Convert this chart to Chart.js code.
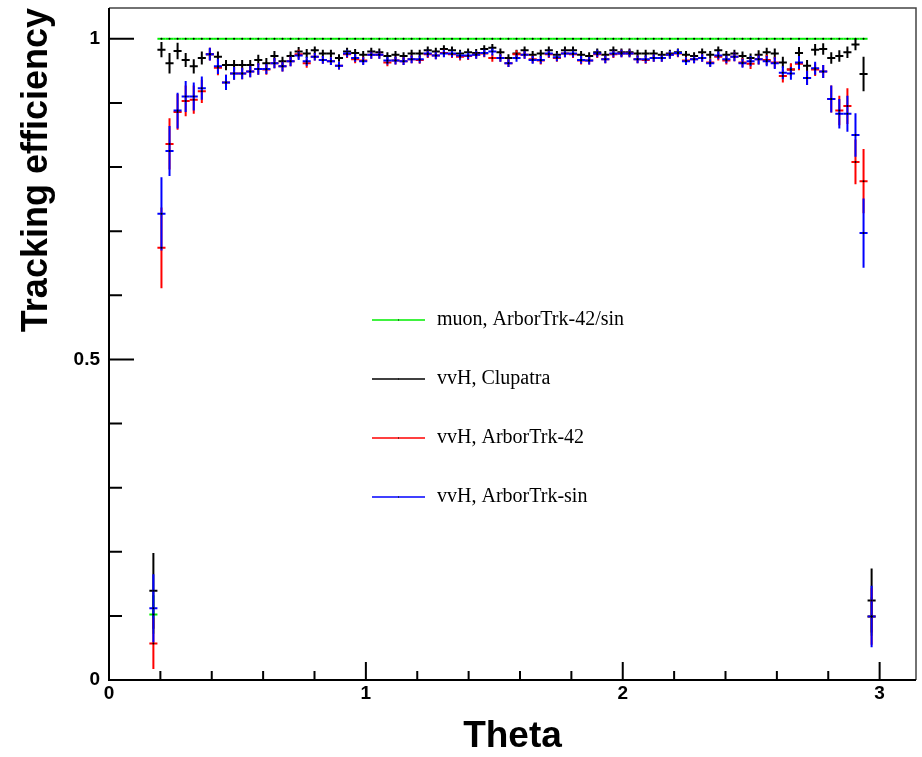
<!DOCTYPE html>
<html>
<head>
<meta charset="utf-8">
<title>Tracking efficiency vs Theta</title>
<script src="https://cdn.jsdelivr.net/npm/chart.js@4.4.1/dist/chart.umd.min.js"></script>
<style>
    body { margin: 0; background: #fff; }
    canvas { display: block; }
</style>
</head>
<body>
<canvas id="effChart" width="922" height="757"></canvas>
<script>
// theta bin centres (100 bins from 0 to pi, bins 5..94 filled)
const theta = [
    0.1728, 0.2042, 0.2356, 0.2670, 0.2985, 0.3299, 0.3613, 0.3927, 0.4241, 0.4555,
    0.4869, 0.5184, 0.5498, 0.5812, 0.6126, 0.6440, 0.6754, 0.7069, 0.7383, 0.7697,
    0.8011, 0.8325, 0.8639, 0.8954, 0.9268, 0.9582, 0.9896, 1.0210, 1.0524, 1.0838,
    1.1153, 1.1467, 1.1781, 1.2095, 1.2409, 1.2723, 1.3038, 1.3352, 1.3666, 1.3980,
    1.4294, 1.4608, 1.4923, 1.5237, 1.5551, 1.5865, 1.6179, 1.6493, 1.6808, 1.7122,
    1.7436, 1.7750, 1.8064, 1.8378, 1.8692, 1.9007, 1.9321, 1.9635, 1.9949, 2.0263,
    2.0577, 2.0892, 2.1206, 2.1520, 2.1834, 2.2148, 2.2462, 2.2777, 2.3091, 2.3405,
    2.3719, 2.4033, 2.4347, 2.4662, 2.4976, 2.5290, 2.5604, 2.5918, 2.6232, 2.6546,
    2.6861, 2.7175, 2.7489, 2.7803, 2.8117, 2.8431, 2.8746, 2.9060, 2.9374, 2.9688
];
const binWidth = Math.PI / 100;

const muonEff = [
    0.102, 1, 1, 1, 1, 1, 1, 1, 1, 1,
    1, 1, 1, 1, 1, 1, 1, 1, 1, 1,
    1, 1, 1, 1, 1, 1, 1, 1, 1, 1,
    1, 1, 1, 1, 1, 1, 1, 1, 1, 1,
    1, 1, 1, 1, 1, 1, 1, 1, 1, 1,
    1, 1, 1, 1, 1, 1, 1, 1, 1, 1,
    1, 1, 1, 1, 1, 1, 1, 1, 1, 1,
    1, 1, 1, 1, 1, 1, 1, 1, 1, 1,
    1, 1, 1, 1, 1, 1, 1, 1, 1, 0.099
];
const muonErr = [
    0.03, 0, 0, 0, 0, 0, 0, 0, 0, 0,
    0, 0, 0, 0, 0, 0, 0, 0, 0, 0,
    0, 0, 0, 0, 0, 0, 0, 0, 0, 0,
    0, 0, 0, 0, 0, 0, 0, 0, 0, 0,
    0, 0, 0, 0, 0, 0, 0, 0, 0, 0,
    0, 0, 0, 0, 0, 0, 0, 0, 0, 0,
    0, 0, 0, 0, 0, 0, 0, 0, 0, 0,
    0, 0, 0, 0, 0, 0, 0, 0, 0, 0,
    0, 0, 0, 0, 0, 0, 0, 0, 0, 0.03
];

const clupatraEff = [
    0.139, 0.983, 0.962, 0.981, 0.967, 0.957, 0.970, 0.976, 0.972, 0.959,
    0.959, 0.959, 0.959, 0.967, 0.962, 0.973, 0.965, 0.973, 0.980, 0.977,
    0.982, 0.977, 0.977, 0.970, 0.980, 0.978, 0.975, 0.980, 0.979, 0.973,
    0.975, 0.973, 0.977, 0.977, 0.982, 0.980, 0.984, 0.982, 0.977, 0.979,
    0.978, 0.984, 0.986, 0.979, 0.970, 0.977, 0.982, 0.975, 0.977, 0.982,
    0.975, 0.982, 0.982, 0.975, 0.973, 0.979, 0.975, 0.982, 0.979, 0.979,
    0.977, 0.977, 0.977, 0.975, 0.977, 0.979, 0.975, 0.973, 0.979, 0.975,
    0.982, 0.975, 0.977, 0.973, 0.970, 0.975, 0.979, 0.977, 0.963, 0.952,
    0.978, 0.958, 0.983, 0.984, 0.970, 0.973, 0.979, 0.991, 0.945, 0.124
];
const clupatraErr = [
    0.059, 0.012, 0.016, 0.013, 0.011, 0.011, 0.010, 0.009, 0.008, 0.008,
    0.008, 0.008, 0.008, 0.008, 0.008, 0.008, 0.007, 0.007, 0.007, 0.007,
    0.006, 0.006, 0.006, 0.006, 0.006, 0.006, 0.006, 0.006, 0.006, 0.006,
    0.006, 0.006, 0.006, 0.006, 0.006, 0.006, 0.006, 0.006, 0.006, 0.006,
    0.006, 0.006, 0.006, 0.006, 0.006, 0.006, 0.006, 0.006, 0.006, 0.006,
    0.006, 0.006, 0.006, 0.006, 0.006, 0.006, 0.006, 0.006, 0.006, 0.006,
    0.006, 0.006, 0.006, 0.006, 0.006, 0.006, 0.006, 0.006, 0.006, 0.006,
    0.006, 0.006, 0.006, 0.007, 0.007, 0.007, 0.007, 0.008, 0.009, 0.009,
    0.009, 0.009, 0.009, 0.009, 0.009, 0.009, 0.009, 0.009, 0.027, 0.050
];

const arbor42Eff = [
    0.057, 0.674, 0.836, 0.886, 0.903, 0.905, 0.918, 0.976, 0.955, 0.932,
    0.946, 0.946, 0.949, 0.953, 0.952, 0.962, 0.957, 0.965, 0.976, 0.962,
    0.972, 0.967, 0.965, 0.958, 0.976, 0.968, 0.966, 0.975, 0.975, 0.963,
    0.966, 0.965, 0.968, 0.967, 0.976, 0.974, 0.978, 0.976, 0.972, 0.973,
    0.975, 0.977, 0.970, 0.970, 0.962, 0.976, 0.975, 0.968, 0.966, 0.976,
    0.970, 0.977, 0.976, 0.966, 0.966, 0.976, 0.968, 0.976, 0.977, 0.977,
    0.968, 0.967, 0.970, 0.970, 0.975, 0.977, 0.966, 0.968, 0.970, 0.963,
    0.972, 0.966, 0.972, 0.963, 0.961, 0.968, 0.967, 0.963, 0.942, 0.952,
    0.961, 0.939, 0.952, 0.949, 0.906, 0.888, 0.895, 0.808, 0.778, 0.099
];
const arbor42Err = [
    0.040, 0.063, 0.040, 0.028, 0.024, 0.022, 0.018, 0.010, 0.012, 0.012,
    0.010, 0.009, 0.009, 0.009, 0.008, 0.008, 0.008, 0.008, 0.007, 0.007,
    0.006, 0.006, 0.006, 0.006, 0.006, 0.006, 0.006, 0.006, 0.006, 0.006,
    0.006, 0.006, 0.006, 0.006, 0.006, 0.006, 0.006, 0.006, 0.006, 0.006,
    0.006, 0.006, 0.006, 0.006, 0.006, 0.006, 0.006, 0.006, 0.006, 0.006,
    0.006, 0.006, 0.006, 0.006, 0.006, 0.006, 0.006, 0.006, 0.006, 0.006,
    0.006, 0.006, 0.006, 0.006, 0.006, 0.006, 0.006, 0.006, 0.006, 0.006,
    0.006, 0.006, 0.007, 0.007, 0.008, 0.008, 0.008, 0.009, 0.010, 0.010,
    0.010, 0.011, 0.010, 0.010, 0.021, 0.023, 0.028, 0.035, 0.050, 0.044
];

const arborSinEff = [
    0.112, 0.727, 0.825, 0.888, 0.910, 0.910, 0.923, 0.976, 0.957, 0.932,
    0.946, 0.946, 0.949, 0.953, 0.953, 0.962, 0.957, 0.965, 0.974, 0.965,
    0.972, 0.967, 0.965, 0.958, 0.977, 0.970, 0.965, 0.975, 0.975, 0.966,
    0.966, 0.965, 0.968, 0.968, 0.977, 0.974, 0.977, 0.977, 0.974, 0.974,
    0.975, 0.978, 0.980, 0.970, 0.962, 0.970, 0.975, 0.967, 0.967, 0.977,
    0.971, 0.977, 0.977, 0.967, 0.966, 0.977, 0.968, 0.977, 0.977, 0.977,
    0.968, 0.968, 0.970, 0.970, 0.975, 0.978, 0.965, 0.968, 0.970, 0.962,
    0.974, 0.968, 0.972, 0.962, 0.965, 0.968, 0.965, 0.962, 0.947, 0.946,
    0.963, 0.939, 0.954, 0.949, 0.906, 0.883, 0.883, 0.850, 0.697, 0.099
];
const arborSinErr = [
    0.053, 0.057, 0.039, 0.028, 0.024, 0.022, 0.018, 0.010, 0.012, 0.012,
    0.010, 0.009, 0.009, 0.009, 0.008, 0.008, 0.008, 0.008, 0.007, 0.007,
    0.006, 0.006, 0.006, 0.006, 0.006, 0.006, 0.006, 0.006, 0.006, 0.006,
    0.006, 0.006, 0.006, 0.006, 0.006, 0.006, 0.006, 0.006, 0.006, 0.006,
    0.006, 0.006, 0.006, 0.006, 0.006, 0.006, 0.006, 0.006, 0.006, 0.006,
    0.006, 0.006, 0.006, 0.006, 0.006, 0.006, 0.006, 0.006, 0.006, 0.006,
    0.006, 0.006, 0.006, 0.006, 0.006, 0.006, 0.006, 0.006, 0.006, 0.006,
    0.006, 0.006, 0.007, 0.007, 0.008, 0.008, 0.008, 0.009, 0.010, 0.010,
    0.010, 0.011, 0.010, 0.010, 0.021, 0.023, 0.028, 0.034, 0.054, 0.048
];

// axis ticks that carry a label
const xTickLabels = [0, 1, 2, 3];
const yTickLabels = [0, 0.5, 1];

function toPoints(vals, errs) {
    return theta.map((t, i) => ({ x: t, y: vals[i], err: errs[i] }));
}

function makeSet(label, color, vals, errs) {
    return {
        label: label,
        data: toPoints(vals, errs),
        borderColor: color,
        backgroundColor: "#000",
        pointRadius: 1,
        pointBorderWidth: 0,
        pointBackgroundColor: "#000",
        showLine: false
    };
}

const hasLabel = (list, v) => list.some(l => Math.abs(l - v) < 1e-6);

// histogram style error crosses: bin width horizontally, +-err vertically
const errorBars = {
    id: "errorBars",
    beforeDatasetsDraw(chart) {
        const { ctx, scales: { x, y } } = chart;
        ctx.save();
        ctx.lineWidth = 2;
        chart.data.datasets.forEach((ds) => {
            ctx.strokeStyle = ds.borderColor;
            ds.data.forEach(p => {
                const xl = x.getPixelForValue(p.x - binWidth / 2);
                const xr = x.getPixelForValue(p.x + binWidth / 2);
                const xc = x.getPixelForValue(p.x);
                const yc = y.getPixelForValue(p.y);
                ctx.beginPath();
                ctx.moveTo(xl, yc);
                ctx.lineTo(xr, yc);
                if (p.err > 0) {
                    ctx.moveTo(xc, y.getPixelForValue(p.y + p.err));
                    ctx.lineTo(xc, y.getPixelForValue(p.y - p.err));
                }
                ctx.stroke();
            });
        });
        ctx.restore();
    }
};

// ROOT style frame with inward ticks
const frame = {
    id: "frame",
    afterDraw(chart) {
        const { ctx, chartArea: a, scales: { x, y } } = chart;
        ctx.save();
        ctx.strokeStyle = "#444";
        ctx.lineWidth = 1.5;
        ctx.beginPath();
        ctx.moveTo(a.left, a.top);
        ctx.lineTo(a.right, a.top);
        ctx.lineTo(a.right, a.bottom);
        ctx.stroke();

        ctx.strokeStyle = "#000";
        ctx.lineWidth = 2;
        ctx.beginPath();
        ctx.moveTo(a.left, a.top);
        ctx.lineTo(a.left, a.bottom);
        ctx.lineTo(a.right, a.bottom);

        y.ticks.forEach(t => {
            if (t.value > 1.0001) return;
            const py = y.getPixelForValue(t.value);
            const len = hasLabel(yTickLabels, t.value) ? 25 : 13;
            ctx.moveTo(a.left, py);
            ctx.lineTo(a.left + len, py);
        });
        x.ticks.forEach(t => {
            if (t.value > 3.0001 || t.value < 0.0001) return;
            const px = x.getPixelForValue(t.value);
            const len = hasLabel(xTickLabels, t.value) ? 18 : 9;
            ctx.moveTo(px, a.bottom);
            ctx.lineTo(px, a.bottom - len);
        });
        ctx.stroke();

        // legend box inside the pad
        const lx = 372, ly = 320, step = 59;
        chart.data.datasets.forEach((ds, i) => {
            const yy = ly + i * step;
            ctx.strokeStyle = ds.borderColor;
            ctx.lineWidth = 1.5;
            ctx.beginPath();
            ctx.moveTo(lx, yy);
            ctx.lineTo(lx + 53, yy);
            ctx.stroke();
            ctx.fillStyle = "#000";
            ctx.fillRect(lx + 26, yy - 0.5, 1, 1);
            ctx.font = "20px 'Liberation Serif', 'Times New Roman', serif";
            ctx.textBaseline = "middle";
            ctx.textAlign = "left";
            ctx.fillText(ds.label, lx + 65, yy);
        });
        ctx.restore();
    }
};

new Chart(document.getElementById("effChart"), {
    type: "scatter",
    data: {
        datasets: [
            makeSet("muon, ArborTrk-42/sin", "#00ee00", muonEff, muonErr),
            makeSet("vvH, Clupatra", "#000000", clupatraEff, clupatraErr),
            makeSet("vvH, ArborTrk-42", "#ff0000", arbor42Eff, arbor42Err),
            makeSet("vvH, ArborTrk-sin", "#0000ff", arborSinEff, arborSinErr)
        ]
    },
    options: {
        responsive: false,
        animation: false,
        devicePixelRatio: 1,
        layout: {
            padding: { left: 0, top: 8, right: 6, bottom: 0 }
        },
        plugins: {
            legend: { display: false },
            tooltip: { enabled: false }
        },
        scales: {
            x: {
                type: "linear",
                min: 0,
                max: Math.PI,
                afterFit: (scale) => {
                    scale.height = 77;
                    scale.paddingLeft = 0;
                    scale.paddingRight = 0;
                },
                grid: { display: false, drawTicks: false },
                border: { display: false },
                ticks: {
                    stepSize: 0.2,
                    includeBounds: false,
                    autoSkip: false,
                    maxRotation: 0,
                    padding: 2,
                    color: "#000",
                    font: { family: "'Liberation Sans', Arial, sans-serif", size: 19, weight: "bold" },
                    callback: (v) => hasLabel(xTickLabels, v) ? String(Math.round(v)) : ""
                },
                title: {
                    display: true,
                    text: "Theta",
                    color: "#000",
                    padding: { top: 0, bottom: 2 },
                    font: { family: "'Liberation Sans', Arial, sans-serif", size: 37, weight: "bold", lineHeight: 1 }
                }
            },
            y: {
                type: "linear",
                min: 0,
                max: 1.048,
                afterFit: (scale) => {
                    scale.width = 109;
                    scale.paddingTop = 0;
                    scale.paddingBottom = 0;
                },
                grid: { display: false, drawTicks: false },
                border: { display: false },
                ticks: {
                    stepSize: 0.1,
                    includeBounds: false,
                    autoSkip: false,
                    padding: 9,
                    color: "#000",
                    font: { family: "'Liberation Sans', Arial, sans-serif", size: 19, weight: "bold" },
                    callback: (v) => hasLabel(yTickLabels, v) ? String(Math.round(v * 10) / 10) : ""
                },
                title: {
                    display: true,
                    text: "Tracking efficiency",
                    align: "end",
                    color: "#000",
                    padding: { top: 19, bottom: 0 },
                    font: { family: "'Liberation Sans', Arial, sans-serif", size: 36, weight: "bold", lineHeight: 1 }
                }
            }
        }
    },
    plugins: [errorBars, frame]
});
</script>
</body>
</html>
